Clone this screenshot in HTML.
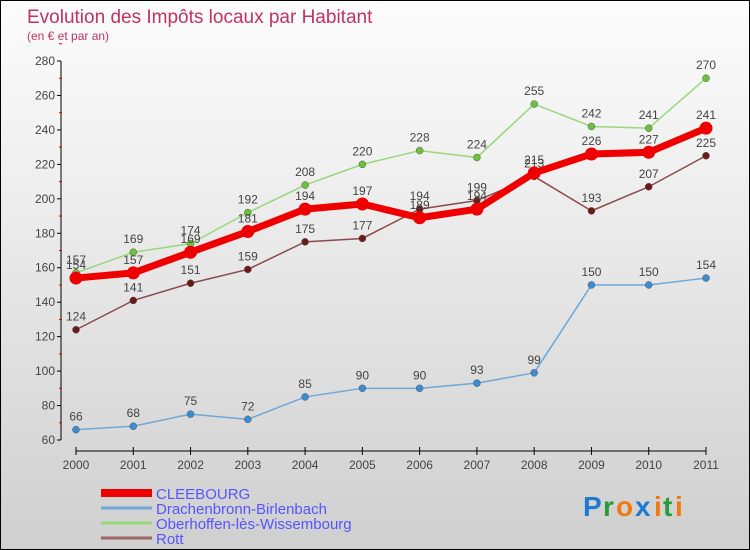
<!DOCTYPE html>
<html><head><meta charset="utf-8"><style>
body{margin:0}
#wrap{width:748px;height:548px;border:1px solid #000;background:linear-gradient(#fcfcfc,#f0f0f0 30%,#cfcfcf);position:relative;overflow:hidden;font-family:"Liberation Sans",sans-serif}
svg text{font-family:"Liberation Sans",sans-serif}
</style></head><body>
<div id="wrap">
<svg id="s" width="748" height="548">
<text x="26" y="22" font-size="19" fill="#c0335f">Evolution des Impôts locaux par Habitant</text>
<text x="26" y="39" font-size="12" fill="#c0335f">(en € et par an)</text>
<g id="g"></g>
<g font-size="28" font-weight="bold">
<text x="582" y="515" fill="#1e7bd0">P</text><text x="602" y="515" fill="#2a9a3a">r</text><text x="615" y="515" fill="#f07a10">o</text><text x="634" y="515" fill="#1e7bd0">x</text><text x="653" y="515" fill="#f07a10">i</text><text x="662" y="515" fill="#2a9a3a">t</text><text x="674" y="515" fill="#f07a10">i</text>
</g>
</svg></div>
<script>
const years=[2000,2001,2002,2003,2004,2005,2006,2007,2008,2009,2010,2011];
const cleebourg=[154,157,169,181,194,197,189,194,215,226,227,241];
const drachenbronn=[66,68,75,72,85,90,90,93,99,150,150,154];
const oberhoffen=[157,169,174,192,208,220,228,224,255,242,241,270];
const rott=[124,141,151,159,175,177,194,199,213,193,207,225];
const yTicks=[60,80,100,120,140,160,180,200,220,240,260,280];
const seriesNames=["CLEEBOURG","Drachenbronn-Birlenbach","Oberhoffen-lès-Wissembourg","Rott"];
const NS="http://www.w3.org/2000/svg";
const g=document.getElementById('g');
const x=i=>75+i*(630/11);
const y=v=>439-(v-60)*(379/220);
function mk(t,a,p){const e=document.createElementNS(NS,t);for(const k in a)e.setAttribute(k,a[k]);(p||g).appendChild(e);return e;}
// axes
let ya=mk('line',{x1:60,y1:y(280),x2:60,y2:y(60),stroke:'#000'});


yTicks.forEach(v=>{
 mk('line',{x1:56,x2:60,y1:y(v),y2:y(v),stroke:'#000'});
 mk('line',{x1:58,x2:61,y1:y(v+10),y2:y(v+10),stroke:'#d00'});
 let t=mk('text',{x:54,y:y(v)+4,'text-anchor':'end','font-size':12,fill:'#444'});t.textContent=v;
 
 
});
let xa=mk('line',{x1:x(0),y1:450,x2:x(11),y2:450,stroke:'#000'});


years.forEach((yr,i)=>{
 mk('line',{x1:x(i),x2:x(i),y1:446,y2:454,stroke:'#000'});
 let t=mk('text',{x:x(i),y:468,'text-anchor':'middle','font-size':12,fill:'#444'});t.textContent=yr;
 
 
});
function series(data,color,w,r,dot,name){
 const sg=mk('g',{});
 
 
 mk('polyline',{points:data.map((v,i)=>x(i)+','+y(v)).join(' '),fill:'none',stroke:color,'stroke-width':w,'stroke-linejoin':'round'},sg);
 data.forEach((v,i)=>{
  let c=mk('circle',{cx:x(i),cy:y(v),r:r,fill:dot,stroke:w>3?color:'#555','stroke-width':w>3?0:0.5},sg);
  
  
  let t=mk('text',{x:x(i),y:y(v)-9,'text-anchor':'middle','font-size':12,fill:'#444'},sg);t.textContent=v;
 });
}
series(drachenbronn,'#6fa7d6',1.5,3.5,'#3b8cd0','series-drachenbronn');
series(oberhoffen,'#9ad67a',1.5,3.5,'#6cc23a','series-oberhoffen');
series(rott,'#8b4a4a',1.5,3.5,'#6b1a1a','series-rott');
series(cleebourg,'#e00',7,6.5,'#e00','series-cleebourg');
// legend
const lc=['#e00','#6fa7d6','#9ad67a','#9a6464'],lw=[8,3,3,3];
seriesNames.forEach((n,i)=>{
 const ly=492+i*15;
 let l=mk('line',{x1:100,x2:151,y1:ly,y2:ly,stroke:lc[i],'stroke-width':lw[i]});
 
 
 let t=mk('text',{x:155,y:ly+6,'font-size':15,fill:'#55f'});t.textContent=n;
 
 
});
</script>
</body></html>
